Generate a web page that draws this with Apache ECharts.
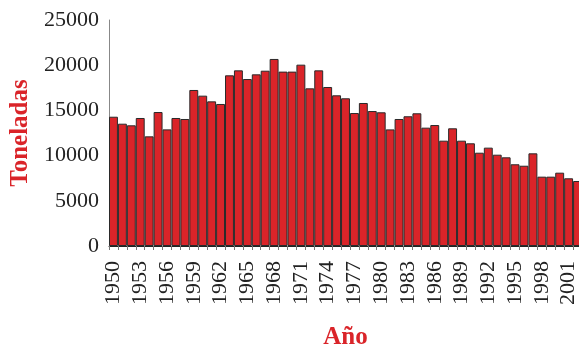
<!DOCTYPE html>
<html>
<head>
<meta charset="utf-8">
<script src="https://cdn.jsdelivr.net/npm/echarts@6/dist/echarts.min.js"></script>
<style>
  html, body { margin: 0; padding: 0; background: #fff; }
  #chart { width: 579px; height: 347px; }
</style>
</head>
<body>
<div id="chart"></div>
<script>
// años 1950 - 2002
const years = []
for (let y = 1950; y <= 2002; y++) years.push(String(y))

// toneladas por año
const toneladas = [
  14300, 13530, 13350, 14160, 12130, 14820, 12900, 14160, 14050, 17260,
  16630, 16000, 15710, 18880, 19430, 18470, 18990, 19390, 20690, 19290,
  19290, 20060, 17440, 19430, 17590, 16670, 16340, 14710, 15820, 14930,
  14790, 12900, 14050, 14350, 14680, 13090, 13380, 11650, 13020, 11650,
  11360, 10320, 10880, 10100, 9810, 9040, 8880, 10250, 7670, 7670,
  8110, 7490, 7190
]

const yTicks = [0, 5000, 10000, 15000, 20000, 25000]

const red = '#da2429'
const serif = '"Liberation Serif", "DejaVu Serif", serif'

const chart = echarts.init(document.getElementById('chart'))

const options = {
  animation: false,
  grid: {
    left: 109,
    top: 20,
    width: 473,
    bottom: 101,
    containLabel: false,
    outerBoundsMode: 'none'
  },
  xAxis: {
    type: 'category',
    data: years,
    name: 'Año',
    nameLocation: 'middle',
    nameGap: 79,
    nameTextStyle: { color: red, fontFamily: serif, fontWeight: 'bold', fontSize: 25 },
    axisLine: { lineStyle: { color: '#222', width: 1 } },
    axisTick: { show: true, interval: 0, length: 4, lineStyle: { color: '#777' } },
    axisLabel: {
      interval: 2,
      rotate: 90,
      margin: 15,
      color: '#222',
      fontFamily: serif,
      fontSize: 22
    }
  },
  yAxis: {
    type: 'value',
    min: yTicks[0],
    max: yTicks[yTicks.length - 1],
    interval: 5000,
    name: 'Toneladas',
    nameLocation: 'middle',
    nameGap: 72,
    nameTextStyle: { color: red, fontFamily: serif, fontWeight: 'bold', fontSize: 25 },
    axisLine: { show: true, lineStyle: { color: '#888', width: 1 } },
    axisTick: { show: false },
    splitLine: { show: false },
    axisLabel: {
      margin: 10,
      color: '#222',
      fontFamily: serif,
      fontSize: 22,
      formatter: v => String(v)
    }
  },
  series: [{
    type: 'bar',
    data: toneladas,
    barCategoryGap: 0,
    itemStyle: {
      color: red,
      borderColor: '#2a2a2a',
      borderWidth: 1
    }
  }]
}

chart.setOption(options)
</script>
</body>
</html>
